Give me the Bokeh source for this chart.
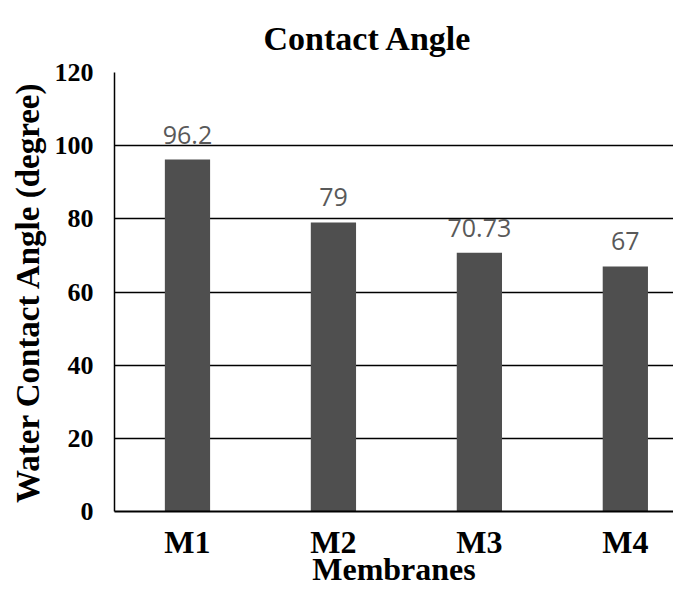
from bokeh.plotting import figure
from bokeh.models import Range1d, FixedTicker, ColumnDataSource
from bokeh.core.properties import value
from bokeh.embed import file_html
from bokeh.resources import INLINE

title_text = "Contact Angle"
categories = ["M1", "M2", "M3", "M4"]
contact_angle = [96.2, 79, 70.73, 67]
value_labels = ["96.2", "79", "70.73", "67"]
y_ticks = [0, 20, 40, 60, 80, 100, 120]

xs = list(range(len(categories)))
src = ColumnDataSource(dict(x=xs, top=contact_angle, label=value_labels))

p = figure(width=673, height=589, output_backend="svg", toolbar_location=None,
           x_range=Range1d(-0.5, 3.33), y_range=Range1d(0, 120),
           min_border_left=114, min_border_right=0, min_border_top=72, min_border_bottom=77)

p.title.text = title_text
p.title.text_font = "Liberation Serif"
p.title.text_font_style = "bold"
p.title.text_font_size = "34px"
p.title.align = "left"
p.title.offset = 149
p.title.standoff = 32
p.title.text_color = "black"

p.outline_line_color = None
p.background_fill_color = "white"

p.vbar(x="x", top="top", width=0.31, source=src, fill_color="#4f4f4f", line_color=None)
p.text(x="x", y="top", text="label", source=src, text_align="center",
       text_baseline="alphabetic", y_offset=-25, text_color="#595959",
       text_font=value("Open Sans"), text_font_size="25px")

# x axis
p.xaxis.ticker = FixedTicker(ticks=xs)
p.xaxis.major_label_overrides = {i: c for i, c in zip(xs, categories)}
p.xaxis.major_tick_line_color = None
p.xaxis.minor_tick_line_color = None
p.xaxis.major_tick_out = 0
p.xaxis.major_label_standoff = 12
p.xaxis.major_label_text_font = "Liberation Serif"
p.xaxis.major_label_text_font_style = "bold"
p.xaxis.major_label_text_font_size = "32px"
p.xaxis.major_label_text_color = "black"
p.xaxis.axis_label = "Membranes"
p.xaxis.axis_label_text_font = "Liberation Serif"
p.xaxis.axis_label_text_font_style = "bold"
p.xaxis.axis_label_text_font_size = "32px"
p.xaxis.axis_label_text_color = "black"
p.xaxis.axis_label_standoff = -12
p.xaxis.axis_line_color = "black"
p.xaxis.axis_line_width = 2

# y axis
p.yaxis.ticker = FixedTicker(ticks=y_ticks)
p.yaxis.major_tick_line_color = None
p.yaxis.minor_tick_line_color = None
p.yaxis.major_tick_out = 0
p.yaxis.major_label_standoff = 21
p.yaxis.major_label_text_font = "Liberation Serif"
p.yaxis.major_label_text_font_style = "bold"
p.yaxis.major_label_text_font_size = "26px"
p.yaxis.major_label_text_color = "black"
p.yaxis.axis_label = "Water Contact Angle (degree)"
p.yaxis.axis_label_text_font = "Liberation Serif"
p.yaxis.axis_label_text_font_style = "bold"
p.yaxis.axis_label_text_font_size = "33px"
p.yaxis.axis_label_text_color = "black"
p.yaxis.axis_label_standoff = 6
p.yaxis.axis_line_color = "black"
p.yaxis.axis_line_width = 1.5

p.xgrid.grid_line_color = None
p.ygrid.ticker = FixedTicker(ticks=y_ticks)
p.ygrid.grid_line_color = "black"
p.ygrid.grid_line_width = 1.5

open("out.html", "w").write(file_html(p, INLINE))
